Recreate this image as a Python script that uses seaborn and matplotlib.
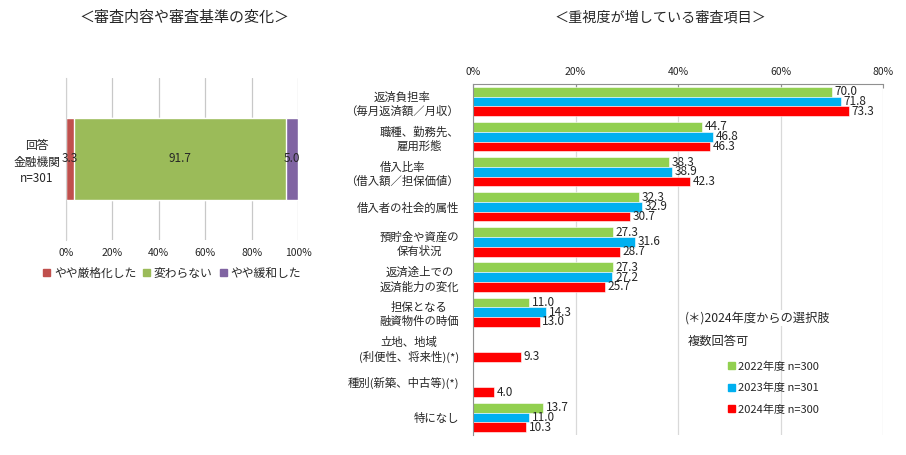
import numpy as np
import pandas as pd
import matplotlib
matplotlib.use("Agg")
import matplotlib.pyplot as plt
import seaborn as sns
from matplotlib.patches import Patch

sns.set_style("white")
plt.rcParams['font.family'] = ['Noto Sans CJK JP', 'DejaVu Sans']

# ---- left chart data ----
left_category = ['回答\n金融機関\nn=301']
left_labels = ['やや厳格化した', '変わらない', 'やや緩和した']
left_values = [3.3, 91.7, 5.0]
left_colors = ['#C0504D', '#9BBB59', '#8064A2']

# ---- right chart data ----
items = ['返済負担率\n（毎月返済額／月収）', '職種、勤務先、\n雇用形態', '借入比率\n（借入額／担保価値）',
         '借入者の社会的属性', '預貯金や資産の\n保有状況', '返済途上での\n返済能力の変化',
         '担保となる\n融資物件の時価', '立地、地域\n(利便性、将来性)(*)',
         '種別(新築、中古等)(*)', '特になし']
years = ['2022年度 n=300', '2023年度 n=301', '2024年度 n=300']
v2022 = [70.0, 44.7, 38.3, 32.3, 27.3, 27.3, 11.0, np.nan, np.nan, 13.7]
v2023 = [71.8, 46.8, 38.9, 32.9, 31.6, 27.2, 14.3, np.nan, np.nan, 11.0]
v2024 = [73.3, 46.3, 42.3, 30.7, 28.7, 25.7, 13.0, 9.3, 4.0, 10.3]
year_colors = ['#92D050', '#00B0F0', '#FF0000']

fig = plt.figure(figsize=(9.06, 4.55), dpi=100)

# ================= left chart =================
axl = fig.add_axes([66/906, 1-240/455, 232/906, 162/455])
cum = np.cumsum(left_values)
# draw cumulative totals from largest to smallest so that segments stack
for i in range(len(left_values)-1, -1, -1):
    sns.barplot(x=[cum[i]], y=left_category, color=left_colors[i], orient='h',
                width=0.51, ax=axl, saturation=1)
starts = cum - np.array(left_values)
for s, v in zip(starts, left_values):
    axl.text(s + v/2, 0, f'{v:.1f}', ha='center', va='center', fontsize=8.5)
axl.set_xlim(0, 100)
axl.set_ylim(0.5, -0.5)
axl.set_xticks([0, 20, 40, 60, 80, 100])
axl.set_xticklabels(['0%', '20%', '40%', '60%', '80%', '100%'], fontsize=7.5)
axl.xaxis.grid(True, color='#c8c8c8', linewidth=0.9)
axl.set_axisbelow(True)
for sp in ['top', 'right', 'bottom']:
    axl.spines[sp].set_visible(False)
axl.spines['left'].set_color('#d0d0d0')
axl.tick_params(axis='both', length=0, pad=6)
axl.tick_params(axis='y', labelsize=8.5, pad=4)
for t in axl.get_yticklabels():
    t.set_multialignment('center')
    t.set_linespacing(1.3)
axl.set_xlabel('')
axl.set_ylabel('')
handles = [Patch(color=c, label=l) for c, l in zip(left_colors, left_labels)]
fig.legend(handles=handles, loc='center', bbox_to_anchor=(172/906, 1-273/455), ncol=3,
           frameon=False, fontsize=8.5, handlelength=0.6, handleheight=0.6,
           handletextpad=0.3, columnspacing=0.6)
fig.text(184/906, 1-18/455, '＜審査内容や審査基準の変化＞', ha='center', va='center', fontsize=10.8)

# ================= right chart =================
df = pd.DataFrame({'item': items * 3,
                   'year': np.repeat(years, len(items)),
                   'value': v2022 + v2023 + v2024})
axr = fig.add_axes([473/906, 1-435/455, 410/906, 351/455])
sns.barplot(data=df, x='value', y='item', hue='year', palette=year_colors, orient='h',
            width=0.83, gap=0, saturation=1, ax=axr, legend=False,
            edgecolor='white', linewidth=0.4)
for cont in axr.containers:
    axr.bar_label(cont, fmt='%.1f', padding=2, fontsize=8.5)
axr.set_xlim(0, 80)
axr.set_ylim(9.5, -0.5)
axr.xaxis.tick_top()
axr.set_xticks([0, 20, 40, 60, 80])
axr.set_xticklabels(['0%', '20%', '40%', '60%', '80%'], fontsize=7.5)
axr.xaxis.grid(True, color='#d9d9d9', linewidth=0.9)
axr.set_axisbelow(True)
axr.spines['bottom'].set_visible(False)
axr.spines['right'].set_visible(False)
axr.spines['top'].set_color('#909090')
axr.spines['left'].set_color('#909090')
axr.tick_params(axis='x', length=3, direction='in', pad=5, color='#909090')
axr.tick_params(axis='y', which='major', length=0, labelsize=8.2, pad=10)
axr.set_yticks(np.arange(-0.5, 10, 1), minor=True)
axr.tick_params(axis='y', which='minor', length=3, color='#909090')
for t in axr.get_yticklabels():
    t.set_multialignment('center')
    t.set_linespacing(1.35)
axr.set_xlabel('')
axr.set_ylabel('')

fig.text(685/906, 1-318/455, '(＊)2024年度からの選択肢', ha='left', va='center', fontsize=8.8,
         bbox=dict(facecolor='white', edgecolor='none', pad=1))
fig.text(688/906, 1-341/455, '複数回答可', ha='left', va='center', fontsize=8.8,
         bbox=dict(facecolor='white', edgecolor='none', pad=1))
rh = [Patch(color=c, label=l) for c, l in zip(year_colors, years)]
fig.legend(handles=rh, loc='center left', bbox_to_anchor=(718/906, 1-388/455),
           frameon=False, fontsize=8, handlelength=0.6, handleheight=0.6,
           handletextpad=0.3, labelspacing=1.0)
fig.text(660/906, 1-17/455, '＜重視度が増している審査項目＞', ha='center', va='center', fontsize=10.2)

fig.savefig('out.png', dpi=100)
